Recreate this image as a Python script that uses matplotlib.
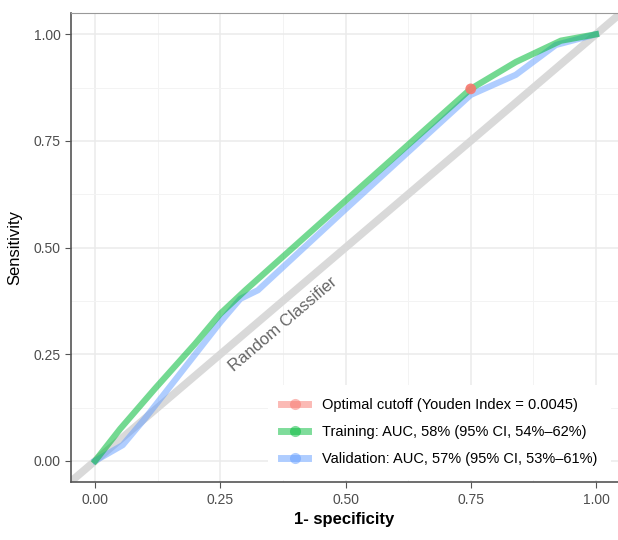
import numpy as np
import matplotlib
matplotlib.use("Agg")
import matplotlib.pyplot as plt
from matplotlib.lines import Line2D
from matplotlib.ticker import MultipleLocator

plt.rcParams["font.family"] = ["Liberation Sans", "DejaVu Sans"]

# ROC curves
train_fpr = [0.0, 0.05, 0.12, 0.20, 0.25, 0.30, 0.50, 0.75, 0.84, 0.93, 1.0]
train_tpr = [0.0, 0.075, 0.17, 0.275, 0.345, 0.40, 0.61, 0.872, 0.935, 0.985, 1.0]
valid_fpr = [0.0, 0.055, 0.10, 0.18, 0.25, 0.29, 0.325, 0.50, 0.75, 0.84, 0.92, 1.0]
valid_tpr = [0.0, 0.037, 0.10, 0.22, 0.325, 0.38, 0.40, 0.59, 0.858, 0.905, 0.975, 1.0]
cutoff_x = [0.75]
cutoff_y = [0.872]

labels = ["Optimal cutoff (Youden Index = 0.0045)",
          "Training: AUC, 58% (95% CI, 54%\u201362%)",
          "Validation: AUC, 57% (95% CI, 53%\u201361%)"]
RED, GREEN, BLUE = "#F8766D", "#00BA38", "#619CFF"

fig = plt.figure(figsize=(6.18, 5.4), dpi=100)
ax = fig.add_axes([0.115, 0.107, 0.885, 0.869])

ax.plot([-0.1, 1.1], [-0.1, 1.1], color="#D9D9D9", lw=5.5, zorder=1,
        solid_capstyle="butt")
ax.plot(valid_fpr, valid_tpr, color=BLUE, alpha=0.5, lw=4.5, zorder=2,
        solid_joinstyle="round")
ax.plot(train_fpr, train_tpr, color=GREEN, alpha=0.55, lw=4.5, zorder=3,
        solid_joinstyle="round")
ax.scatter(cutoff_x, cutoff_y, s=60, color=RED, alpha=0.9, zorder=4,
           edgecolors="none")

ax.text(0.375, 0.32, "Random Classifier", rotation=40.4, color="#666666",
        fontsize=12, ha="center", va="center", rotation_mode="anchor")

ax.set_xlim(-0.048, 1.044)
ax.set_ylim(-0.05, 1.05)
ax.xaxis.set_minor_locator(MultipleLocator(0.125))
ax.yaxis.set_minor_locator(MultipleLocator(0.125))
ax.set_xticks([0, 0.25, 0.5, 0.75, 1.0])
ax.set_xticklabels(["0.00", "0.25", "0.50", "0.75", "1.00"])
ax.set_yticks([0, 0.25, 0.5, 0.75, 1.0])
ax.set_yticklabels(["0.00", "0.25", "0.50", "0.75", "1.00"])
ax.grid(which="major", color="#EBEBEB", lw=1.1, zorder=0)
ax.grid(which="minor", color="#F3F3F3", lw=0.7, zorder=0)
ax.set_axisbelow(True)
ax.tick_params(which="major", length=4, color="#555555", labelsize=10,
               labelcolor="#4D4D4D")
ax.tick_params(which="minor", length=0)
for side in ["left", "bottom"]:
    ax.spines[side].set_color("#555555")
    ax.spines[side].set_linewidth(1.2)
ax.spines["top"].set_color("#999999")
ax.spines["right"].set_visible(False)

ax.set_xlabel("1- specificity", fontsize=12, fontweight="bold", labelpad=4)
ax.set_ylabel("Sensitivity", fontsize=12, labelpad=8)

handles = [Line2D([], [], color=c, lw=5, alpha=0.5, marker="o", markersize=8,
                  markerfacecolor=c, markeredgecolor="none")
           for c in (RED, GREEN, BLUE)]
leg = ax.legend(handles, labels, loc="lower right",
                bbox_to_anchor=(1.0, -0.01), fontsize=10.5, frameon=True,
                facecolor="white", edgecolor="none", framealpha=1,
                handlelength=1.8, handletextpad=1.0, labelspacing=0.9,
                borderpad=0.9, fancybox=False)
leg.set_zorder(5)

fig.savefig("out.png", dpi=100)
